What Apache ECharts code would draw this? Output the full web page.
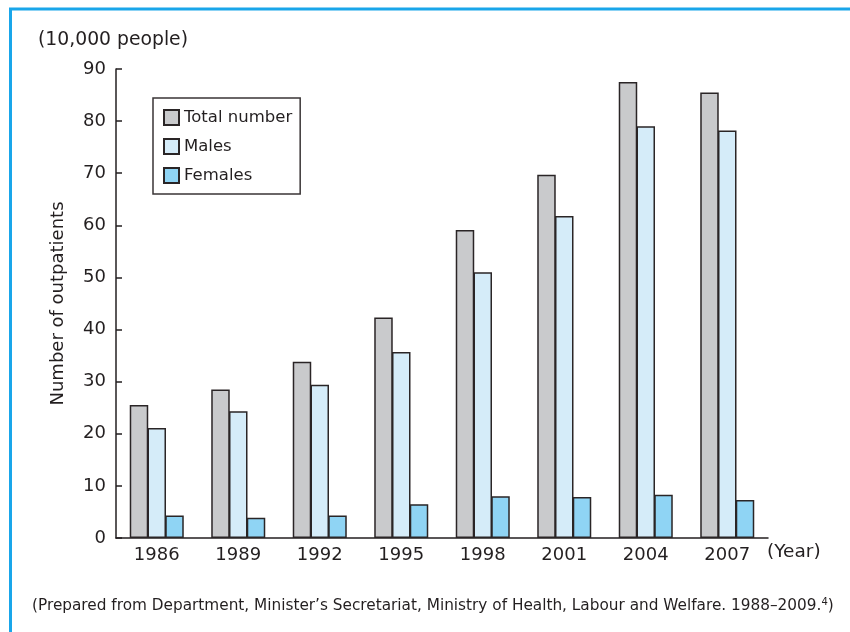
<!DOCTYPE html>
<html>
<head>
<meta charset="utf-8">
<script src="https://cdn.jsdelivr.net/npm/echarts@6/dist/echarts.min.js"></script>
<style>html,body{margin:0;padding:0;background:#fff}#c{width:850px;height:632px}</style>
</head>
<body>
<div id="c"></div>
<script>
const years = ['1986','1989','1992','1995','1998','2001','2004','2007'];
const totalNumber = [25.5, 28.5, 33.8, 42.3, 59.1, 69.7, 87.5, 85.5];
const males = [21.1, 24.3, 29.4, 35.7, 51.0, 61.8, 79.0, 78.2];
const females = [4.3, 3.9, 4.3, 6.5, 8.0, 7.85, 8.3, 7.3];
const seriesNames = ['Total number', 'Males', 'Females'];
const yTicks = [0, 10, 20, 30, 40, 50, 60, 70, 80, 90];

const FONT = 'DejaVu Sans';
const TXT = '#231f20';
const EDGE = '#2a2526';
const colors = ['#c9cacc', '#d5ecf9', '#8fd4f4'];

const chart = echarts.init(document.getElementById('c'), null, {renderer: 'canvas'});
const mk = (name, data, i) => ({
  name: name, type: 'bar', data: data,
  barWidth: 18.5, barGap: '-4%',
  itemStyle: {color: colors[i], borderColor: EDGE, borderWidth: 1.5},
  emphasis: {disabled: true}
});
chart.setOption({
  animation: false,
  textStyle: {fontFamily: FONT, color: TXT},
  grid: {left: 116, right: 82, top: 69, bottom: 94, containLabel: false},
  legend: {
    left: 153, top: 98, orient: 'vertical',
    data: seriesNames,
    itemWidth: 15, itemHeight: 15, itemGap: 12,
    padding: [11, 8, 10, 10],
    borderColor: '#3a3536', borderWidth: 1.5,
    textStyle: {fontFamily: FONT, fontSize: 16.5, color: TXT},
    icon: 'rect'
  },
  xAxis: {
    type: 'category', data: years,
    axisLine: {lineStyle: {color: TXT, width: 1.5}},
    axisTick: {inside: true, length: 6, lineStyle: {color: TXT, width: 1.5}},
    axisLabel: {fontFamily: FONT, fontSize: 18, color: TXT, margin: 8}
  },
  yAxis: {
    type: 'value', min: yTicks[0], max: yTicks[yTicks.length - 1], interval: 10,
    name: 'Number of outpatients', nameLocation: 'middle', nameRotate: 90, nameGap: 49,
    nameTextStyle: {fontFamily: FONT, fontSize: 18, color: TXT},
    splitLine: {show: false},
    axisLine: {show: true, lineStyle: {color: TXT, width: 1.5}},
    axisTick: {show: true, inside: true, length: 6, lineStyle: {color: TXT, width: 1.5}},
    axisLabel: {fontFamily: FONT, fontSize: 18, color: TXT, margin: 10}
  },
  graphic: [
    {type: 'polyline', silent: true, shape: {points: [[10.5, 632], [10.5, 9], [850, 9]]},
     style: {stroke: '#19a6ea', lineWidth: 3, fill: null}},
    {type: 'text', left: 38, top: 31, silent: true,
     style: {text: '(10,000 people)', font: '18.8px "DejaVu Sans"', fill: TXT}},
    {type: 'text', left: 767, top: 543, silent: true,
     style: {text: '(Year)', font: '18.5px "DejaVu Sans"', fill: TXT}},
    {type: 'text', left: 32, top: 597, silent: true,
     style: {
       text: '{a|(Prepared from Department, Minister\u2019s Secretariat, Ministry of Health, Labour and Welfare. 1988\u20132009.}{s|4}{a|)}',
       rich: {
         a: {fontFamily: FONT, fontSize: 15.3, fill: TXT, color: TXT, lineHeight: 19},
         s: {fontFamily: FONT, fontSize: 10, fill: TXT, color: TXT, verticalAlign: 'top', lineHeight: 11}
       }
     }}
  ],
  series: [
    mk(seriesNames[0], totalNumber, 0),
    mk(seriesNames[1], males, 1),
    mk(seriesNames[2], females, 2)
  ]
});
</script>
</body>
</html>
